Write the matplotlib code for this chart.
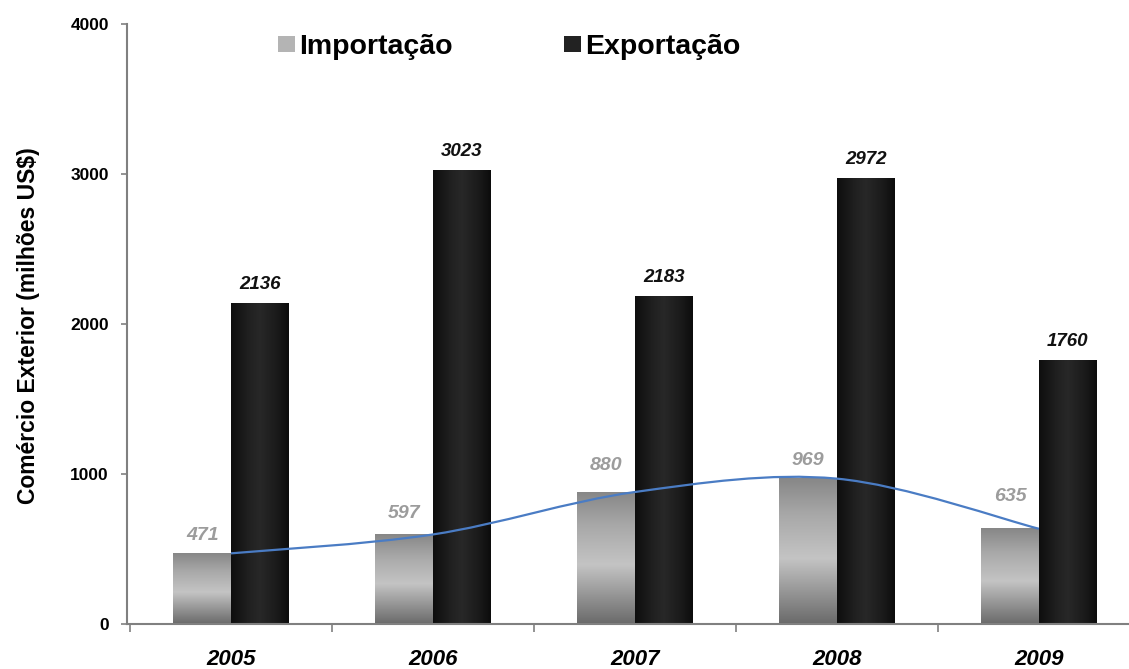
import numpy as np
import matplotlib
matplotlib.use("Agg")
import matplotlib.pyplot as plt
from matplotlib.colors import LinearSegmentedColormap
from matplotlib.patches import Patch
from matplotlib.path import Path
from matplotlib.patches import PathPatch

# --- data -------------------------------------------------------------
anos = ["2005", "2006", "2007", "2008", "2009"]
importacao = [471, 597, 880, 969, 635]
exportacao = [2136, 3023, 2183, 2972, 1760]
y_ticks = [0, 1000, 2000, 3000, 4000]

plt.rcParams["font.family"] = ["Liberation Sans", "DejaVu Sans"]

fig = plt.figure(figsize=(11.29, 6.69), dpi=100)
ax = fig.add_axes([127 / 1129, 45 / 669, (1129 - 127) / 1129, 600 / 669])

x = np.arange(len(anos))
w = 0.285

bars_imp = ax.bar(x - w / 2, importacao, w, color="none", linewidth=0, zorder=2)
bars_exp = ax.bar(x + w / 2, exportacao, w, color="none", linewidth=0, zorder=2)

# gradient fills
cmap_imp = LinearSegmentedColormap.from_list(
    "imp", [(0, "#6a6a6a"), (0.45, "#c4c4c4"), (0.75, "#a8a8a8"), (1, "#878787")])
cmap_exp = LinearSegmentedColormap.from_list(
    "exp", [(0, "#0e0e0e"), (0.3, "#202020"), (0.5, "#282828"),
            (0.8, "#1a1a1a"), (1, "#0c0c0c")])
vgrad = np.linspace(0, 1, 256).reshape(-1, 1)
hgrad = np.linspace(0, 1, 256).reshape(1, -1)

for b in bars_imp:
    x0, y0, bw, bh = b.get_x(), b.get_y(), b.get_width(), b.get_height()
    ax.imshow(vgrad, cmap=cmap_imp, origin="lower", aspect="auto",
              extent=(x0, x0 + bw, y0, y0 + bh), interpolation="bicubic", zorder=2)
for b in bars_exp:
    x0, y0, bw, bh = b.get_x(), b.get_y(), b.get_width(), b.get_height()
    ax.imshow(hgrad, cmap=cmap_exp, origin="lower", aspect="auto",
              extent=(x0, x0 + bw, y0, y0 + bh), interpolation="bicubic", zorder=2)

# smoothed trend line through the import values
pts = np.column_stack([x, importacao]).astype(float)
n = len(pts)
verts = [pts[0]]
codes = [Path.MOVETO]
for i in range(n - 1):
    p_prev = pts[i - 1] if i > 0 else pts[i]
    p0, p1 = pts[i], pts[i + 1]
    p_next = pts[i + 2] if i + 2 < n else pts[i + 1]
    c1 = p0 + (p1 - p_prev) / 6.0
    c2 = p1 - (p_next - p0) / 6.0
    verts += [c1, c2, p1]
    codes += [Path.CURVE4] * 3
ax.add_patch(PathPatch(Path(verts, codes), facecolor="none",
                       edgecolor="#4a7cc4", linewidth=1.6, zorder=4))

# value labels
imp_off = [13, 15, 19, 13, 23]
for b, v, off in zip(bars_imp, importacao, imp_off):
    ax.annotate(f"{v}", (b.get_x() + b.get_width() / 2, v), xytext=(0, off),
                textcoords="offset points", ha="center", va="center",
                fontsize=14, fontweight="bold", fontstyle="italic",
                color="#9c9c9c", zorder=5)
for b, v in zip(bars_exp, exportacao):
    ax.annotate(f"{v}", (b.get_x() + b.get_width() / 2, v), xytext=(0, 13.5),
                textcoords="offset points", ha="center", va="center",
                fontsize=13.5, fontweight="bold", fontstyle="italic",
                color="#111111", zorder=5)

# axes styling
ax.set_xlim(-0.515, 4.446)
ax.set_ylim(0, 4000)
ax.set_yticks(y_ticks)
ax.set_yticklabels([str(t) for t in y_ticks], fontsize=12.5, fontweight="bold")
ax.tick_params(axis="y", length=4, width=1.2, color="#808080", pad=9)

ax.set_xticks(x)
ax.set_xticklabels(anos, fontsize=16, fontweight="bold", fontstyle="italic")
ax.tick_params(axis="x", which="major", length=0, pad=18)
ax.set_xticks(np.arange(-0.5, len(anos) - 0.5, 1.0), minor=True)
ax.tick_params(axis="x", which="minor", length=6, width=1.2, color="#808080")

for s in ("top", "right"):
    ax.spines[s].set_visible(False)
for s in ("left", "bottom"):
    ax.spines[s].set_color("#808080")
    ax.spines[s].set_linewidth(1.5)

ax.set_ylabel("Comércio Exterior (milhões US$)", fontsize=16.5, fontweight="bold")
ax.yaxis.set_label_coords(40 / 1129, 0.513, transform=fig.transFigure)

handles = [Patch(facecolor="#b4b4b4", edgecolor="none", label="Importação"),
           Patch(facecolor="#222222", edgecolor="none", label="Exportação")]
leg = ax.legend(handles=handles, loc="upper left", bbox_to_anchor=(0.1507, 0.983),
                ncol=2, frameon=False, borderpad=0, borderaxespad=0,
                handlelength=0.6, handleheight=0.45, handletextpad=0.15,
                columnspacing=3.9, prop={"size": 20.5, "weight": "bold"})

fig.savefig("out.png", dpi=100, facecolor="white")
